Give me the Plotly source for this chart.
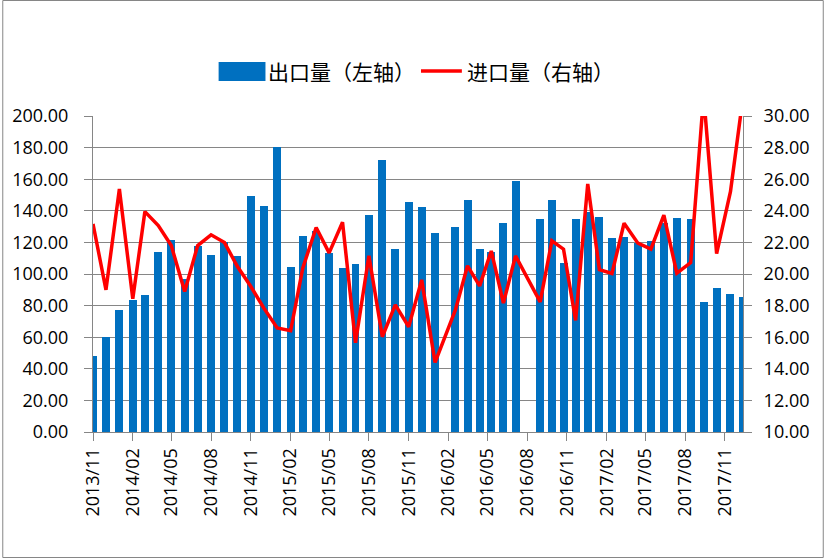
import plotly.graph_objects as go

W, H = 825, 559
# plot area in pixels
L, R, T, B = 91, 82, 116, 127
PW, PH = W - L - R, H - T - B

# dates of each point (monthly at first, then irregular from 2016)
dates = [
    "2013-11-01", "2013-12-01", "2014-01-01", "2014-02-01", "2014-03-01",
    "2014-04-01", "2014-05-01", "2014-06-01", "2014-07-01", "2014-08-01",
    "2014-09-01", "2014-10-01", "2014-11-01", "2014-12-01", "2015-01-01",
    "2015-02-01", "2015-03-01", "2015-04-01", "2015-05-01", "2015-06-01",
    "2015-07-01", "2015-08-01", "2015-09-01", "2015-10-01", "2015-11-01",
    "2015-12-01", "2016-01-01", "2016-02-17", "2016-03-16", "2016-04-13",
    "2016-05-10", "2016-06-07", "2016-07-05", "2016-08-31", "2016-09-27",
    "2016-10-24", "2016-11-21", "2016-12-19", "2017-01-15", "2017-02-13",
    "2017-03-13", "2017-04-14", "2017-05-14", "2017-06-13", "2017-07-13",
    "2017-08-14", "2017-09-13", "2017-10-13", "2017-11-14", "2017-12-14",
]

# 出口量 (left axis)
export_vals = [
    48.3, 60.3, 77.4, 83.7, 86.9, 114.1, 121.7, 97.0, 117.5, 111.8,
    120.2, 111.1, 149.6, 143.2, 180.4, 104.6, 124.2, 127.0, 113.5, 104.0,
    106.5, 137.5, 172.3, 116.0, 145.8, 142.6, 126.1, 130.0, 147.0, 116.0,
    114.0, 132.5, 159.0, 135.0, 147.0, 107.0, 135.0, 139.4, 136.0, 122.9,
    123.6, 119.6, 121.0, 132.5, 135.6, 135.0, 82.5, 91.3, 87.5, 85.6,
]

# 进口量 (right axis)
import_vals = [
    23.17, 19.0, 25.38, 18.43, 23.95, 23.06, 21.8, 18.89, 21.8, 22.48,
    21.99, 20.47, 19.21, 17.84, 16.58, 16.41, 20.37, 22.94, 21.34, 23.28,
    15.65, 21.15, 16.03, 18.05, 16.66, 19.63, 14.40, 17.73, 20.52, 19.25,
    21.46, 18.16, 21.15, 18.24, 22.1, 21.57, 17.06, 25.70, 20.28, 20.03,
    23.21, 21.95, 21.57, 23.72, 20.05, 20.72, 31.3, 21.29, 25.21, 31.4,
]

export_name = "出口量（左轴）"
import_name = "进口量（右轴）"

BLUE = "#0070C0"
RED = "#FF0000"
GRID = "#868686"
FONT = "Open Sans"


def px_x(p):
    return (p - L) / PW


def px_y(p):
    return (H - B - p) / PH


fig = go.Figure()

fig.add_trace(go.Bar(
    x=dates, y=export_vals, name=export_name,
    marker=dict(color=BLUE, line=dict(width=0)),
    width=18.4 * 86400000,
    yaxis="y", showlegend=False,
))

fig.add_trace(go.Scatter(
    x=dates, y=import_vals, name=import_name,
    mode="lines", line=dict(color=RED, width=3.5),
    yaxis="y2", showlegend=False,
))

tickfont = dict(family=FONT, size=18, color="#000000")

fig.update_layout(
    width=W, height=H,
    margin=dict(l=L, r=R, t=T, b=B, pad=0),
    paper_bgcolor="white",
    plot_bgcolor="white",
    xaxis=dict(
        type="date",
        range=["2013-11-01", "2017-12-13"],
        tick0="2013-11-01", dtick="M3", tickformat="%Y/%m",
        tickangle=-90, tickfont=tickfont,
        ticks="outside", ticklen=8, tickcolor=GRID,
        showgrid=False, showline=True, linecolor=GRID, linewidth=1,
        zeroline=False,
    ),
    yaxis=dict(
        range=[0, 200], dtick=20, tickformat=".2f",
        tickfont=tickfont,
        ticks="outside", ticklen=8, tickcolor=GRID,
        ticklabelstandoff=12,
        showgrid=True, gridcolor=GRID, gridwidth=1,
        showline=True, linecolor=GRID, linewidth=1,
        zeroline=False,
    ),
    yaxis2=dict(
        range=[10, 30], dtick=2, tickformat=".2f",
        overlaying="y", side="right",
        tickfont=tickfont,
        ticks="outside", ticklen=8, tickcolor=GRID,
        ticklabelstandoff=8,
        showgrid=False,
        showline=True, linecolor=GRID, linewidth=1,
        zeroline=False,
    ),
    bargap=0,
    showlegend=False,
)

# legend drawn by hand to get Excel-like swatches
fig.add_shape(type="rect", xref="paper", yref="paper",
              x0=px_x(217), x1=px_x(264), y0=px_y(81), y1=px_y(62),
              fillcolor=BLUE, line=dict(width=0))
fig.add_shape(type="line", xref="paper", yref="paper",
              x0=px_x(420), x1=px_x(461), y0=px_y(71), y1=px_y(71),
              line=dict(color=RED, width=3.5))
legend_font = dict(family="Noto Sans CJK SC", size=21, color="#000000")
fig.add_annotation(text=export_name, xref="paper", yref="paper",
                   x=px_x(265), y=px_y(71), xanchor="left", yanchor="middle",
                   showarrow=False, font=legend_font)
fig.add_annotation(text=import_name, xref="paper", yref="paper",
                   x=px_x(464), y=px_y(71), xanchor="left", yanchor="middle",
                   showarrow=False, font=legend_font)

# chart area border
fig.add_shape(type="rect", xref="paper", yref="paper",
              x0=px_x(0.5), x1=px_x(823.5), y0=px_y(557.5), y1=px_y(0.5),
              line=dict(color=GRID, width=1), fillcolor="rgba(0,0,0,0)")

# drop the default page margin so the figure sits at the window corner
fig.write_html("out.html",
               config={"displayModeBar": False},
               post_script="document.body.style.margin='0';")
